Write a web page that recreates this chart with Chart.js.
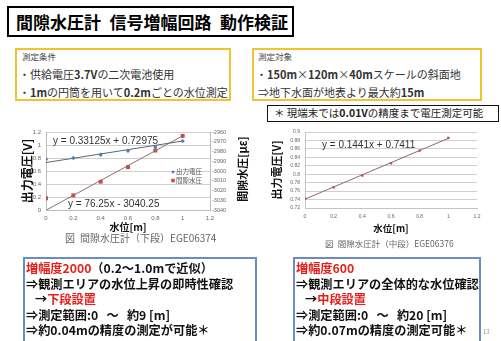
<!DOCTYPE html>
<html lang="ja">
<head>
<meta charset="utf-8">
<title>間隙水圧計 信号増幅回路 動作検証</title>
<script src="https://cdn.jsdelivr.net/npm/chart.js@4.4.1/dist/chart.umd.min.js"></script>
<style>
  html, body { margin: 0; padding: 0; background: #fff; }
  body { width: 501px; height: 341px; position: relative; overflow: hidden;
         font-family: "Noto Sans CJK JP", "Noto Sans", sans-serif; color: #222; }
  .box { position: absolute; box-sizing: border-box; }
  .ln { position: absolute; white-space: pre; line-height: 16px; }
  .cond { font-size: 11px; color: #333; }
  .head { font-size: 8.5px; color: #444; }
  .big { font-size: 12.2px; font-weight: bold; color: #111; }
  .cap { color: #666; }
  .red { color: #e5201d; }
  canvas { position: absolute; }
</style>
</head>
<body>

<div class="box" style="left:7px;top:6px;width:287px;height:31px;border:2.5px solid #000;"></div>
<div class="ln" style="left:16px;top:14px;font-size:17px;font-weight:bold;color:#000;">間隙水圧計&ensp;信号増幅回路&ensp;動作検証</div>

<div class="box" style="left:15px;top:48px;width:216px;height:53px;border:2px solid #f1c232;"></div>
<div class="ln head" style="left:22px;top:48px;">測定条件</div>
<div class="ln cond" style="left:19px;top:66px;">・供給電圧<b>3.7V</b>の二次電池使用</div>
<div class="ln cond" style="left:19px;top:83.5px;">・<b>1m</b>の円筒を用いて<b>0.2m</b>ごとの水位測定</div>

<div class="box" style="left:252px;top:48px;width:230px;height:53px;border:2px solid #f1c232;"></div>
<div class="ln head" style="left:258px;top:48px;">測定対象</div>
<div class="ln cond" style="left:256px;top:66px;">・<b>150m</b>×<b>120m</b>×<b>40m</b>スケールの斜面地</div>
<div class="ln cond" style="left:258px;top:83.5px;">⇒地下水面が地表より最大約<b>15m</b></div>

<div class="box" style="left:267px;top:104.5px;width:232px;height:17.5px;border:1.5px solid #111;"></div>
<div class="ln" style="left:274px;top:105.3px;font-size:10.5px;color:#222;">＊ 現端末では<b>0.01V</b>の精度まで電圧測定可能</div>

<canvas id="lowerChart" width="250" height="115" style="left:0;top:120px;"></canvas>
<canvas id="middleChart" width="245" height="116" style="left:255px;top:120px;"></canvas>

<div class="ln cap" style="left:65px;top:230.3px;font-size:10px;">図&ensp;間隙水圧計（下段）EGE06374</div>
<div class="ln cap" style="left:325px;top:234.7px;font-size:8.5px;">図&ensp;間隙水圧計（中段）EGE06376</div>

<div class="box" style="left:23px;top:257px;width:234px;height:86px;border:2px solid #6b8bc3;"></div>
<div class="ln big" style="left:26px;top:260px;"><span class="red">増幅度2000</span>（0.2～1.0mで近似）</div>
<div class="ln big" style="left:26px;top:275.5px;">⇒観測エリアの水位上昇の即時性確認</div>
<div class="ln big" style="left:35px;top:291px;">→<span class="red">下段設置</span></div>
<div class="ln big" style="left:26px;top:307px;">⇒測定範囲:0   ～   約9 [m]</div>
<div class="ln big" style="left:26px;top:322px;">⇒約0.04mの精度の測定が可能＊</div>

<div class="box" style="left:293px;top:257px;width:188px;height:86px;border:2px solid #6b8bc3;"></div>
<div class="ln big" style="left:296px;top:260px;"><span class="red">増幅度600</span></div>
<div class="ln big" style="left:296px;top:275.5px;">⇒観測エリアの全体的な水位確認</div>
<div class="ln big" style="left:305px;top:291px;">→<span class="red">中段設置</span></div>
<div class="ln big" style="left:296px;top:307px;">⇒測定範囲:0   ～   約20 [m]</div>
<div class="ln big" style="left:296px;top:322px;">⇒約0.07mの精度の測定可能＊</div>
<div class="ln" style="left:483px;top:324px;font-size:6px;color:#999;">13</div>

<script>
const depth = [0, 0.2, 0.4, 0.6, 0.8, 1.0];
const voltLower = [0.78, 0.80, 0.85, 0.91, 0.97, 1.06];
const pressureLower = [-3028, -3025, -3011, -2996, -2979, -2964];
const voltMiddle = [0.742, 0.769, 0.797, 0.826, 0.856, 0.886];

// trend line ends at x = 0 and x = 1
const fitDepth = [0, 1];
const voltLowerFit = [0.730, 1.061];
const pressureLowerFit = [-3040.25, -2964.0];
const voltMiddleFit = [0.741, 0.885];

const lowerNames = ['出力電圧', '間隙水圧'];
const lowerEquations = ['y = 0.33125x + 0.72975', 'y = 76.25x - 3040.25'];
const middleEquation = 'y = 0.1441x + 0.7411';

const depthAxis = { min: 0, max: 1.2, step: 0.2 };
const voltLowerAxis = { min: 0, max: 1.2, step: 0.2 };
const pressureAxis = { min: -3040, max: -2960, step: 10 };
const voltMiddleAxis = { min: 0.72, max: 0.9, step: 0.02 };

const JP = '"Noto Sans CJK JP"';
const LAT = '"Liberation Sans"';
Chart.defaults.font.family = JP;

function toPoints(xs, ys) {
  return xs.map((x, i) => ({ x: x, y: ys[i] }));
}

function fmt(digits) {
  return v => String(+Number(v).toFixed(digits));
}

// free text drawn on the canvas (equations, right axis title)
function overlayPlugin(items) {
  return {
    id: 'overlay',
    afterDraw(chart) {
      const ctx = chart.ctx;
      items.forEach(it => {
        ctx.save();
        ctx.font = it.font;
        ctx.fillStyle = it.color;
        ctx.textBaseline = 'middle';
        ctx.textAlign = it.align || 'left';
        ctx.translate(it.x, it.y);
        if (it.rotate) ctx.rotate(it.rotate);
        ctx.fillText(it.text, 0, 0);
        ctx.restore();
      });
    }
  };
}

// small legend inside the plot, like the excel one
function innerLegend(x, y, gap) {
  return {
    id: 'innerLegend',
    afterDraw(chart) {
      const ctx = chart.ctx;
      ctx.save();
      chart.data.datasets.filter(d => !d.showLine).forEach((d, i) => {
        const cy = y + i * gap;
        ctx.fillStyle = d.backgroundColor;
        ctx.beginPath();
        if (d.pointStyle === 'rectRot') {
          ctx.moveTo(x, cy - 1.8); ctx.lineTo(x + 1.8, cy);
          ctx.lineTo(x, cy + 1.8); ctx.lineTo(x - 1.8, cy);
        } else {
          ctx.rect(x - 1.8, cy - 1.8, 3.6, 3.6);
        }
        ctx.fill();
        ctx.fillStyle = '#555';
        ctx.font = '6.5px ' + JP;
        ctx.textBaseline = 'middle';
        ctx.fillText(d.label, x + 3, cy);
      });
      ctx.restore();
    }
  };
}

const tickFont = size => ({ size: size, family: LAT });

// lower gauge (two axes)
new Chart(document.getElementById('lowerChart'), {
  type: 'scatter',
  data: {
    datasets: [
      { label: lowerNames[0], data: toPoints(depth, voltLower), yAxisID: 'y',
        pointStyle: 'rectRot', pointRadius: 2.2, backgroundColor: '#4f81bd', borderColor: '#4f81bd', borderWidth: 0 },
      { label: lowerNames[1], data: toPoints(depth, pressureLower), yAxisID: 'y2',
        pointStyle: 'rect', pointRadius: 2.8, backgroundColor: '#c0504d', borderColor: '#c0504d', borderWidth: 0 },
      { label: '線形 (出力電圧)', data: toPoints(fitDepth, voltLowerFit), yAxisID: 'y',
        showLine: true, pointRadius: 0, borderColor: '#5b6670', borderWidth: 1 },
      { label: '線形 (間隙水圧)', data: toPoints(fitDepth, pressureLowerFit), yAxisID: 'y2',
        showLine: true, pointRadius: 0, borderColor: '#8d7070', borderWidth: 1 }
    ]
  },
  options: {
    responsive: false,
    animation: false,
    layout: { padding: { left: 0, right: 0, top: 12, bottom: 0 } },
    plugins: { legend: { display: false }, tooltip: { enabled: false } },
    scales: {
      x: {
        type: 'linear', min: depthAxis.min, max: depthAxis.max,
        ticks: { stepSize: depthAxis.step, padding: 5, color: '#666', font: tickFont(6), callback: fmt(1) },
        grid: { display: false, drawTicks: false },
        border: { display: true, color: '#bdbdbd' },
        title: { display: true, text: '水位[m]', color: '#111', font: { size: 10, weight: 'bold' }, padding: { top: 0, bottom: 1.5 } },
        afterFit: s => { s.height = 25; }
      },
      y: {
        position: 'left', min: voltLowerAxis.min, max: voltLowerAxis.max,
        ticks: { stepSize: voltLowerAxis.step, padding: 5, color: '#666', font: tickFont(6), callback: fmt(1), autoSkip: false },
        grid: { color: '#cfcfcf', drawTicks: false },
        border: { display: true, color: '#bdbdbd' },
        title: { display: true, text: '出力電圧[V]', color: '#111', font: { size: 12, weight: 'bold' }, padding: { top: 19.8, bottom: 0 } },
        afterFit: s => { s.width = 46; }
      },
      y2: {
        position: 'right', min: pressureAxis.min, max: pressureAxis.max,
        ticks: { stepSize: pressureAxis.step, padding: 2, color: '#666', font: tickFont(5.5), callback: fmt(0), autoSkip: false },
        grid: { drawOnChartArea: false, drawTicks: false },
        border: { display: true, color: '#bdbdbd' },
        afterFit: s => { s.width = 40; }
      }
    }
  },
  plugins: [
    overlayPlugin([
      { text: lowerEquations[0], x: 53, y: 21, font: '10px ' + LAT, color: '#333' },
      { text: lowerEquations[1], x: 68, y: 84.5, font: '10px ' + LAT, color: '#333' },
      { text: '間隙水圧[με]', x: 243, y: 49, rotate: -Math.PI / 2, align: 'center', font: 'bold 11px ' + JP, color: '#111' }
    ]),
    innerLegend(173, 52, 8.5)
  ]
});

// middle gauge
new Chart(document.getElementById('middleChart'), {
  type: 'scatter',
  data: {
    datasets: [
      { label: '出力電圧', data: toPoints(depth, voltMiddle),
        pointStyle: 'rect', pointRadius: 1.7, backgroundColor: '#c0504d', borderColor: '#c0504d', borderWidth: 0 },
      { label: '線形 (出力電圧)', data: toPoints(fitDepth, voltMiddleFit),
        showLine: true, pointRadius: 0, borderColor: '#8a6a6a', borderWidth: 1 }
    ]
  },
  options: {
    responsive: false,
    animation: false,
    layout: { padding: { left: 0, right: 23, top: 12, bottom: 0 } },
    plugins: { legend: { display: false }, tooltip: { enabled: false } },
    scales: {
      x: {
        type: 'linear', min: depthAxis.min, max: depthAxis.max,
        ticks: { stepSize: depthAxis.step, padding: 6, color: '#666', font: tickFont(5), callback: fmt(1) },
        grid: { display: false, drawTicks: false },
        border: { display: true, color: '#c4c4c4' },
        title: { display: true, text: '水位[m]', color: '#111', font: { size: 9.5, weight: 'bold' }, padding: { top: 0, bottom: 2 } },
        afterFit: s => { s.height = 28; }
      },
      y: {
        position: 'left', min: voltMiddleAxis.min, max: voltMiddleAxis.max,
        ticks: { stepSize: voltMiddleAxis.step, padding: 5, color: '#666', font: tickFont(5), callback: fmt(2), autoSkip: false },
        grid: { color: '#cfcfcf', drawTicks: false },
        border: { display: true, color: '#c4c4c4' },
        title: { display: true, text: '出力電圧[V]', color: '#111', font: { size: 11, weight: 'bold' }, padding: { top: 15.4, bottom: 0 } },
        afterFit: s => { s.width = 50; }
      }
    }
  },
  plugins: [
    overlayPlugin([
      { text: middleEquation, x: 67, y: 25, font: '10px ' + LAT, color: '#333' }
    ])
  ]
});
</script>
</body>
</html>
